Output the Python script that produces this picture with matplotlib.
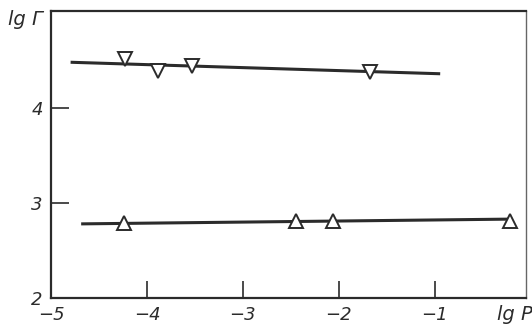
import matplotlib.pyplot as plt

# upper series (down triangles)
x_up = [-4.23, -3.89, -3.53, -1.68]
y_up = [4.52, 4.39, 4.44, 4.38]
line_up_x = [-4.78, -0.96]
line_up_y = [4.48, 4.36]

# lower series (up triangles)
x_lo = [-4.24, -2.45, -2.06, -0.22]
y_lo = [2.79, 2.81, 2.81, 2.81]
line_lo_x = [-4.67, -0.21]
line_lo_y = [2.78, 2.83]

xticks = [-5, -4, -3, -2, -1]
yticks = [2, 3, 4]

ink = '#2b2b2b'
plt.rcParams['font.family'] = ['DejaVu Sans']

fig = plt.figure(figsize=(5.32, 3.28), dpi=100)
ax = fig.add_axes([0.0959, 0.0915, 0.8928, 0.875])

ax.plot(line_up_x, line_up_y, color=ink, lw=2.2, zorder=2)
ax.plot(line_lo_x, line_lo_y, color=ink, lw=2.2, zorder=2)
ax.plot(x_up, y_up, 'v', ms=10, mfc='white', mec=ink, mew=1.4, ls='none', zorder=3)
ax.plot(x_lo, y_lo, '^', ms=10, mfc='white', mec=ink, mew=1.4, ls='none', zorder=3)

ax.set_xlim(-5, -0.05)
ax.set_ylim(2, 5.02)
ax.set_xticks(xticks)
ax.set_yticks(yticks)
ax.set_xticklabels(['\u2212%d' % abs(v) for v in xticks], fontstyle='italic', fontsize=13, color=ink)
ax.set_yticklabels([str(v) for v in yticks], fontstyle='italic', fontsize=13, color=ink)
ax.tick_params(axis='x', direction='in', length=12, width=1.2, color=ink, pad=6)
ax.tick_params(axis='y', direction='in', length=13, width=1.2, color=ink, pad=6)

for s in ['left', 'bottom', 'top']:
    ax.spines[s].set_linewidth(1.6)
    ax.spines[s].set_color(ink)
ax.spines['right'].set_linewidth(1.0)
ax.spines['right'].set_color('#666666')

fig.text(0.015, 0.925, 'lg \u0413', fontstyle='italic', fontsize=14, color=ink)
fig.text(0.935, 0.025, 'lg P', fontstyle='italic', fontsize=14, color=ink)

fig.savefig('out.png', dpi=100)
